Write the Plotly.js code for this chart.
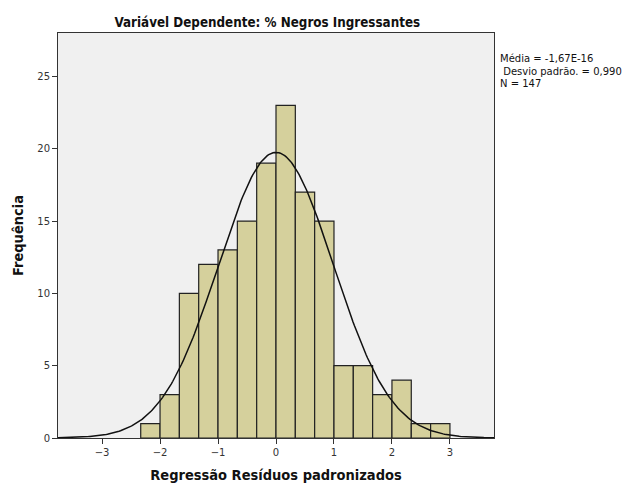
<!DOCTYPE html>
<html>
<head>
<meta charset="utf-8">
<script src="https://cdn.plot.ly/plotly-3.0.1.min.js"></script>
<style>html,body{margin:0;padding:0;background:#fff;}#chart{width:641px;height:484px;}</style>
</head>
<body>
<div id="chart"></div>
<script>
// Histogram bins (left edges) and counts
var binLeft = [-2.3333, -2, -1.6667, -1.3333, -1, -0.6667, -0.3333, 0, 0.3333, 0.6667, 1, 1.3333, 1.6667, 2, 2.3333, 2.6667];
var counts  = [1, 3, 10, 12, 13, 15, 19, 23, 17, 15, 5, 5, 3, 4, 1, 1];
var binWidth = 1 / 3;

// Statistics shown in the chart
var statMean = -1.67e-16;
var statSD = 0.990;
var statN = 147;
var statLabels = ["Média = -1,67E-16", " Desvio padrão. = 0,990", "N = 147"];

var xTicks = [-3, -2, -1, 0, 1, 2, 3];
var yTicks = [0, 5, 10, 15, 20, 25];

var centers = binLeft.map(function (b) { return b + binWidth / 2; });

// Fitted normal curve defined by the stated mean, SD and N
var curveX = [], curveY = [];
for (var i = 0; i <= 300; i++) {
  var x = -3.76 + 7.52 * i / 300;
  var z = (x - statMean) / statSD;
  curveX.push(x);
  curveY.push(statN * binWidth * Math.exp(-0.5 * z * z) / (statSD * Math.sqrt(2 * Math.PI)));
}

var traces = [
  {
    type: 'bar', x: centers, y: counts, width: binWidth,
    marker: {color: '#d5d09c', line: {color: '#222', width: 1.2}},
    hoverinfo: 'x+y'
  },
  {
    type: 'scatter', mode: 'lines', x: curveX, y: curveY,
    line: {color: '#111', width: 1.5}, hoverinfo: 'skip'
  }
];

var labelY = [0.936, 0.906, 0.876];
var annotations = statLabels.map(function (t, k) {
  return {
    xref: 'paper', yref: 'paper', x: 1.012, y: labelY[k], xanchor: 'left', yanchor: 'middle',
    text: t.replace(/^ /, '\u00a0'), align: 'left', showarrow: false, borderpad: 0,
    font: {family: 'DejaVu Sans, sans-serif', size: 10, color: '#111'}
  };
});

var layout = {
  width: 641, height: 484,
  margin: {l: 58, r: 147, t: 33, b: 46},
  paper_bgcolor: '#ffffff',
  plot_bgcolor: '#f0f0f0',
  showlegend: false,
  bargap: 0,
  font: {family: 'DejaVu Sans, sans-serif', size: 10, color: '#333'},
  title: {
    text: '<b>Variável Dependente: % Negros Ingressantes</b>',
    font: {family: 'DejaVu Sans Condensed, DejaVu Sans, sans-serif', size: 13.3, color: '#111'},
    x: 0.417, xanchor: 'center', y: 0.953, yanchor: 'middle'
  },
  xaxis: {
    range: [-3.76, 3.76],
    tickvals: xTicks, ticktext: xTicks.map(function (v) { return v < 0 ? '\u2212' + Math.abs(v) : String(v); }),
    ticks: 'outside', ticklen: 5, tickcolor: '#333', tickwidth: 1,
    showline: true, linecolor: '#333', linewidth: 1, mirror: true,
    showgrid: false, zeroline: false,
    tickfont: {size: 10, color: '#333'},
    title: {text: '<b>Regressão Resíduos padronizados</b>', standoff: 12,
            font: {family: 'DejaVu Sans Condensed, DejaVu Sans, sans-serif', size: 14.5, color: '#111'}}
  },
  yaxis: {
    range: [0, 28],
    tickvals: yTicks,
    ticks: 'outside', ticklen: 5, tickcolor: '#333', tickwidth: 1,
    showline: true, linecolor: '#333', linewidth: 1, mirror: true,
    showgrid: false, zeroline: false,
    tickfont: {size: 10, color: '#333'},
    title: {text: '<b>Frequência</b>', standoff: 10,
            font: {family: 'DejaVu Sans Condensed, DejaVu Sans, sans-serif', size: 14.5, color: '#111'}}
  },
  annotations: annotations
};

Plotly.newPlot('chart', traces, layout, {displayModeBar: false, staticPlot: true});
</script>
</body>
</html>
